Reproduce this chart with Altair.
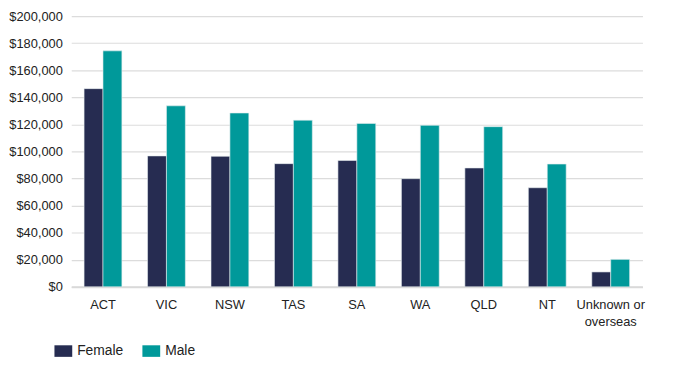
import altair as alt
import pandas as pd

categories = ["ACT", "VIC", "NSW", "TAS", "SA", "WA", "QLD", "NT", "Unknown or overseas"]
female = [146400, 96700, 96400, 91000, 93300, 79900, 87800, 73200, 11000]
male = [174300, 133700, 128400, 123100, 120700, 119300, 118300, 90700, 20300]
series = ["Female", "Male"]
colors = ["#262C51", "#00999A"]

rows = []
for c, f, m in zip(categories, female, male):
    rows.append({"region": c, "sex": "Female", "value": f})
    rows.append({"region": c, "sex": "Male", "value": m})
df = pd.DataFrame(rows)

FONT = "Liberation Sans, Arial, sans-serif"

chart = alt.Chart(df).mark_bar(stroke="#e8eef0", strokeWidth=0.6).encode(
    x=alt.X("region:N", sort=categories, title=None,
            scale=alt.Scale(paddingInner=0.404, paddingOuter=0.202),
            axis=alt.Axis(labelAngle=0, labelFont=FONT, labelFontSize=13, labelColor="#222222",
                          labelPadding=12, ticks=False, domainColor="#d9d9d9", domainWidth=2,
                          labelLineHeight=17,
                          labelExpr="datum.label == 'Unknown or overseas' ? ['Unknown or', 'overseas'] : datum.label")),
    xOffset=alt.XOffset("sex:N", sort=series, scale=alt.Scale(paddingInner=0, paddingOuter=0)),
    y=alt.Y("value:Q", title=None,
            scale=alt.Scale(domain=[0, 200000], nice=False),
            axis=alt.Axis(values=list(range(0, 200001, 20000)), format="$,.0f",
                          labelFont=FONT, labelFontSize=13, labelColor="#222222",
                          labelPadding=9, ticks=False, domain=False,
                          gridColor="#dcdcdc", gridWidth=1.2)),
    color=alt.Color("sex:N", sort=series,
                    scale=alt.Scale(domain=series, range=colors),
                    legend=alt.Legend(title=None, orient="none", legendX=-17, legendY=330,
                                      direction="horizontal",
                                      symbolType="M-1,-0.65L1,-0.65L1,0.65L-1,0.65Z",
                                      symbolSize=324, symbolStrokeWidth=0,
                                      labelFont=FONT, labelFontSize=14, labelColor="#222222",
                                      labelOffset=5, columnPadding=19)),
).properties(
    width=578, height=274,
    autosize=alt.AutoSizeParams(type="none"),
    padding={"left": 64, "top": 6, "right": 39, "bottom": 82},
).configure_view(stroke=None)

chart.save("out.html", embed_options={"renderer": "svg", "actions": False})
